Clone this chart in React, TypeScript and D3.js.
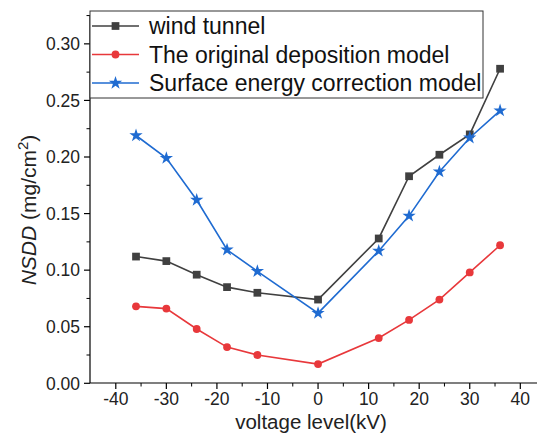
import React from 'react';
import * as d3 from 'd3';

const width = 538;
const height = 434;
const margin = { top: 15, right: 1, bottom: 51, left: 90 };

const voltage = [-36, -30, -24, -18, -12, 0, 12, 18, 24, 30, 36];
const windTunnel = [0.112, 0.108, 0.096, 0.085, 0.08, 0.074, 0.128, 0.183, 0.202, 0.22, 0.278];
const originalModel = [0.068, 0.066, 0.048, 0.032, 0.025, 0.017, 0.04, 0.056, 0.074, 0.098, 0.122];
const surfaceModel = [0.219, 0.199, 0.162, 0.118, 0.099, 0.062, 0.117, 0.148, 0.187, 0.217, 0.241];

const xTicks = [-40, -30, -20, -10, 0, 10, 20, 30, 40];
const yTicks = [0, 0.05, 0.1, 0.15, 0.2, 0.25, 0.3];

const series = [
  { name: 'wind tunnel', values: windTunnel, color: '#404040', marker: 'square' },
  { name: 'The original deposition model', values: originalModel, color: '#e8383b', marker: 'circle' },
  { name: 'Surface energy correction model', values: surfaceModel, color: '#1f6bd1', marker: 'star' },
];

const font = 'Arial, "Liberation Sans", sans-serif';

const x = d3.scaleLinear().domain([-45.1, 43.3]).range([margin.left, width - margin.right]);
const y = d3.scaleLinear().domain([0, 0.3255]).range([height - margin.bottom + 0.3, margin.top]);

const symbols: Record<string, d3.SymbolType> = {
  square: d3.symbolSquare,
  circle: d3.symbolCircle,
  star: d3.symbolStar,
};
const sizes: Record<string, number> = { square: 60, circle: 48, star: 55 };

function Marker({ type, color, cx, cy }: { type: string; color: string; cx: number; cy: number }) {
  const d = d3.symbol().type(symbols[type]).size(sizes[type])() || '';
  return <path d={d} transform={`translate(${cx},${cy})`} fill={color} />;
}

export default function App() {
  const line = d3.line<number>().x((_, i) => x(voltage[i])).y((v) => y(v));
  const x0 = margin.left;
  const y0 = height - margin.bottom;
  const xMinor = d3.range(-35, 44, 10);
  const yMinor = d3.range(0.025, 0.33, 0.05);
  const legend = { top: 11, right: 483, row: 28.5 };

  return (
    <svg width={width} height={height} style={{ position: 'absolute', left: 0, top: 0, background: '#fff' }}>
      {series.map((s) => (
        <g key={s.name}>
          <path d={line(s.values) || ''} fill="none" stroke={s.color} strokeWidth={1.6} />
          {s.values.map((v, i) => (
            <Marker key={i} type={s.marker} color={s.color} cx={x(voltage[i])} cy={y(v)} />
          ))}
        </g>
      ))}

      {/* axes */}
      <line x1={x0} x2={x0} y1={margin.top} y2={y0} stroke="#000" strokeWidth={1.2} />
      <line x1={x0} x2={width - margin.right} y1={y0} y2={y0} stroke="#000" strokeWidth={1.2} />
      {yTicks.map((t) => (
        <g key={t}>
          <line x1={x0 - 6} x2={x0} y1={y(t)} y2={y(t)} stroke="#000" strokeWidth={1.2} />
          <text x={x0 - 10} y={y(t)} dy="0.36em" textAnchor="end" fontFamily={font} fontSize={17.5} fill="#222">
            {t.toFixed(2)}
          </text>
        </g>
      ))}
      {yMinor.map((t) => (
        <line key={t} x1={x0 - 3.5} x2={x0} y1={y(t)} y2={y(t)} stroke="#000" strokeWidth={1} />
      ))}
      {xTicks.map((t) => (
        <g key={t}>
          <line x1={x(t)} x2={x(t)} y1={y0} y2={y0 + 6} stroke="#000" strokeWidth={1.2} />
          <text x={x(t)} y={y0 + 22} textAnchor="middle" fontFamily={font} fontSize={17.5} fill="#222">
            {t}
          </text>
        </g>
      ))}
      {xMinor.map((t) => (
        <line key={t} x1={x(t)} x2={x(t)} y1={y0} y2={y0 + 3.5} stroke="#000" strokeWidth={1} />
      ))}

      <text x={311} y={429} textAnchor="middle" fontFamily={font} fontSize={20.5} fill="#222">
        voltage level(kV)
      </text>
      <text transform={`translate(36, 210) rotate(-90)`} textAnchor="middle" fontFamily={font} fontSize={21} fill="#222">
        <tspan fontStyle="italic">NSDD</tspan> (mg/cm<tspan fontSize={15} dy={-8}>2</tspan>
        <tspan dy={8}>)</tspan>
      </text>

      {/* legend */}
      <rect x={x0} y={legend.top} width={legend.right - x0} height={87} fill="#fff" stroke="#333" strokeWidth={1} />
      {series.map((s, i) => {
        const ly = legend.top + 15 + i * legend.row;
        return (
          <g key={s.name}>
            <line x1={92} x2={139} y1={ly} y2={ly} stroke={s.color} strokeWidth={1.6} />
            <Marker type={s.marker} color={s.color} cx={115.5} cy={ly} />
            <text x={149} y={ly} dy="0.36em" fontFamily={font} fontSize={23} fill="#111">
              {s.name}
            </text>
          </g>
        );
      })}
    </svg>
  );
}
